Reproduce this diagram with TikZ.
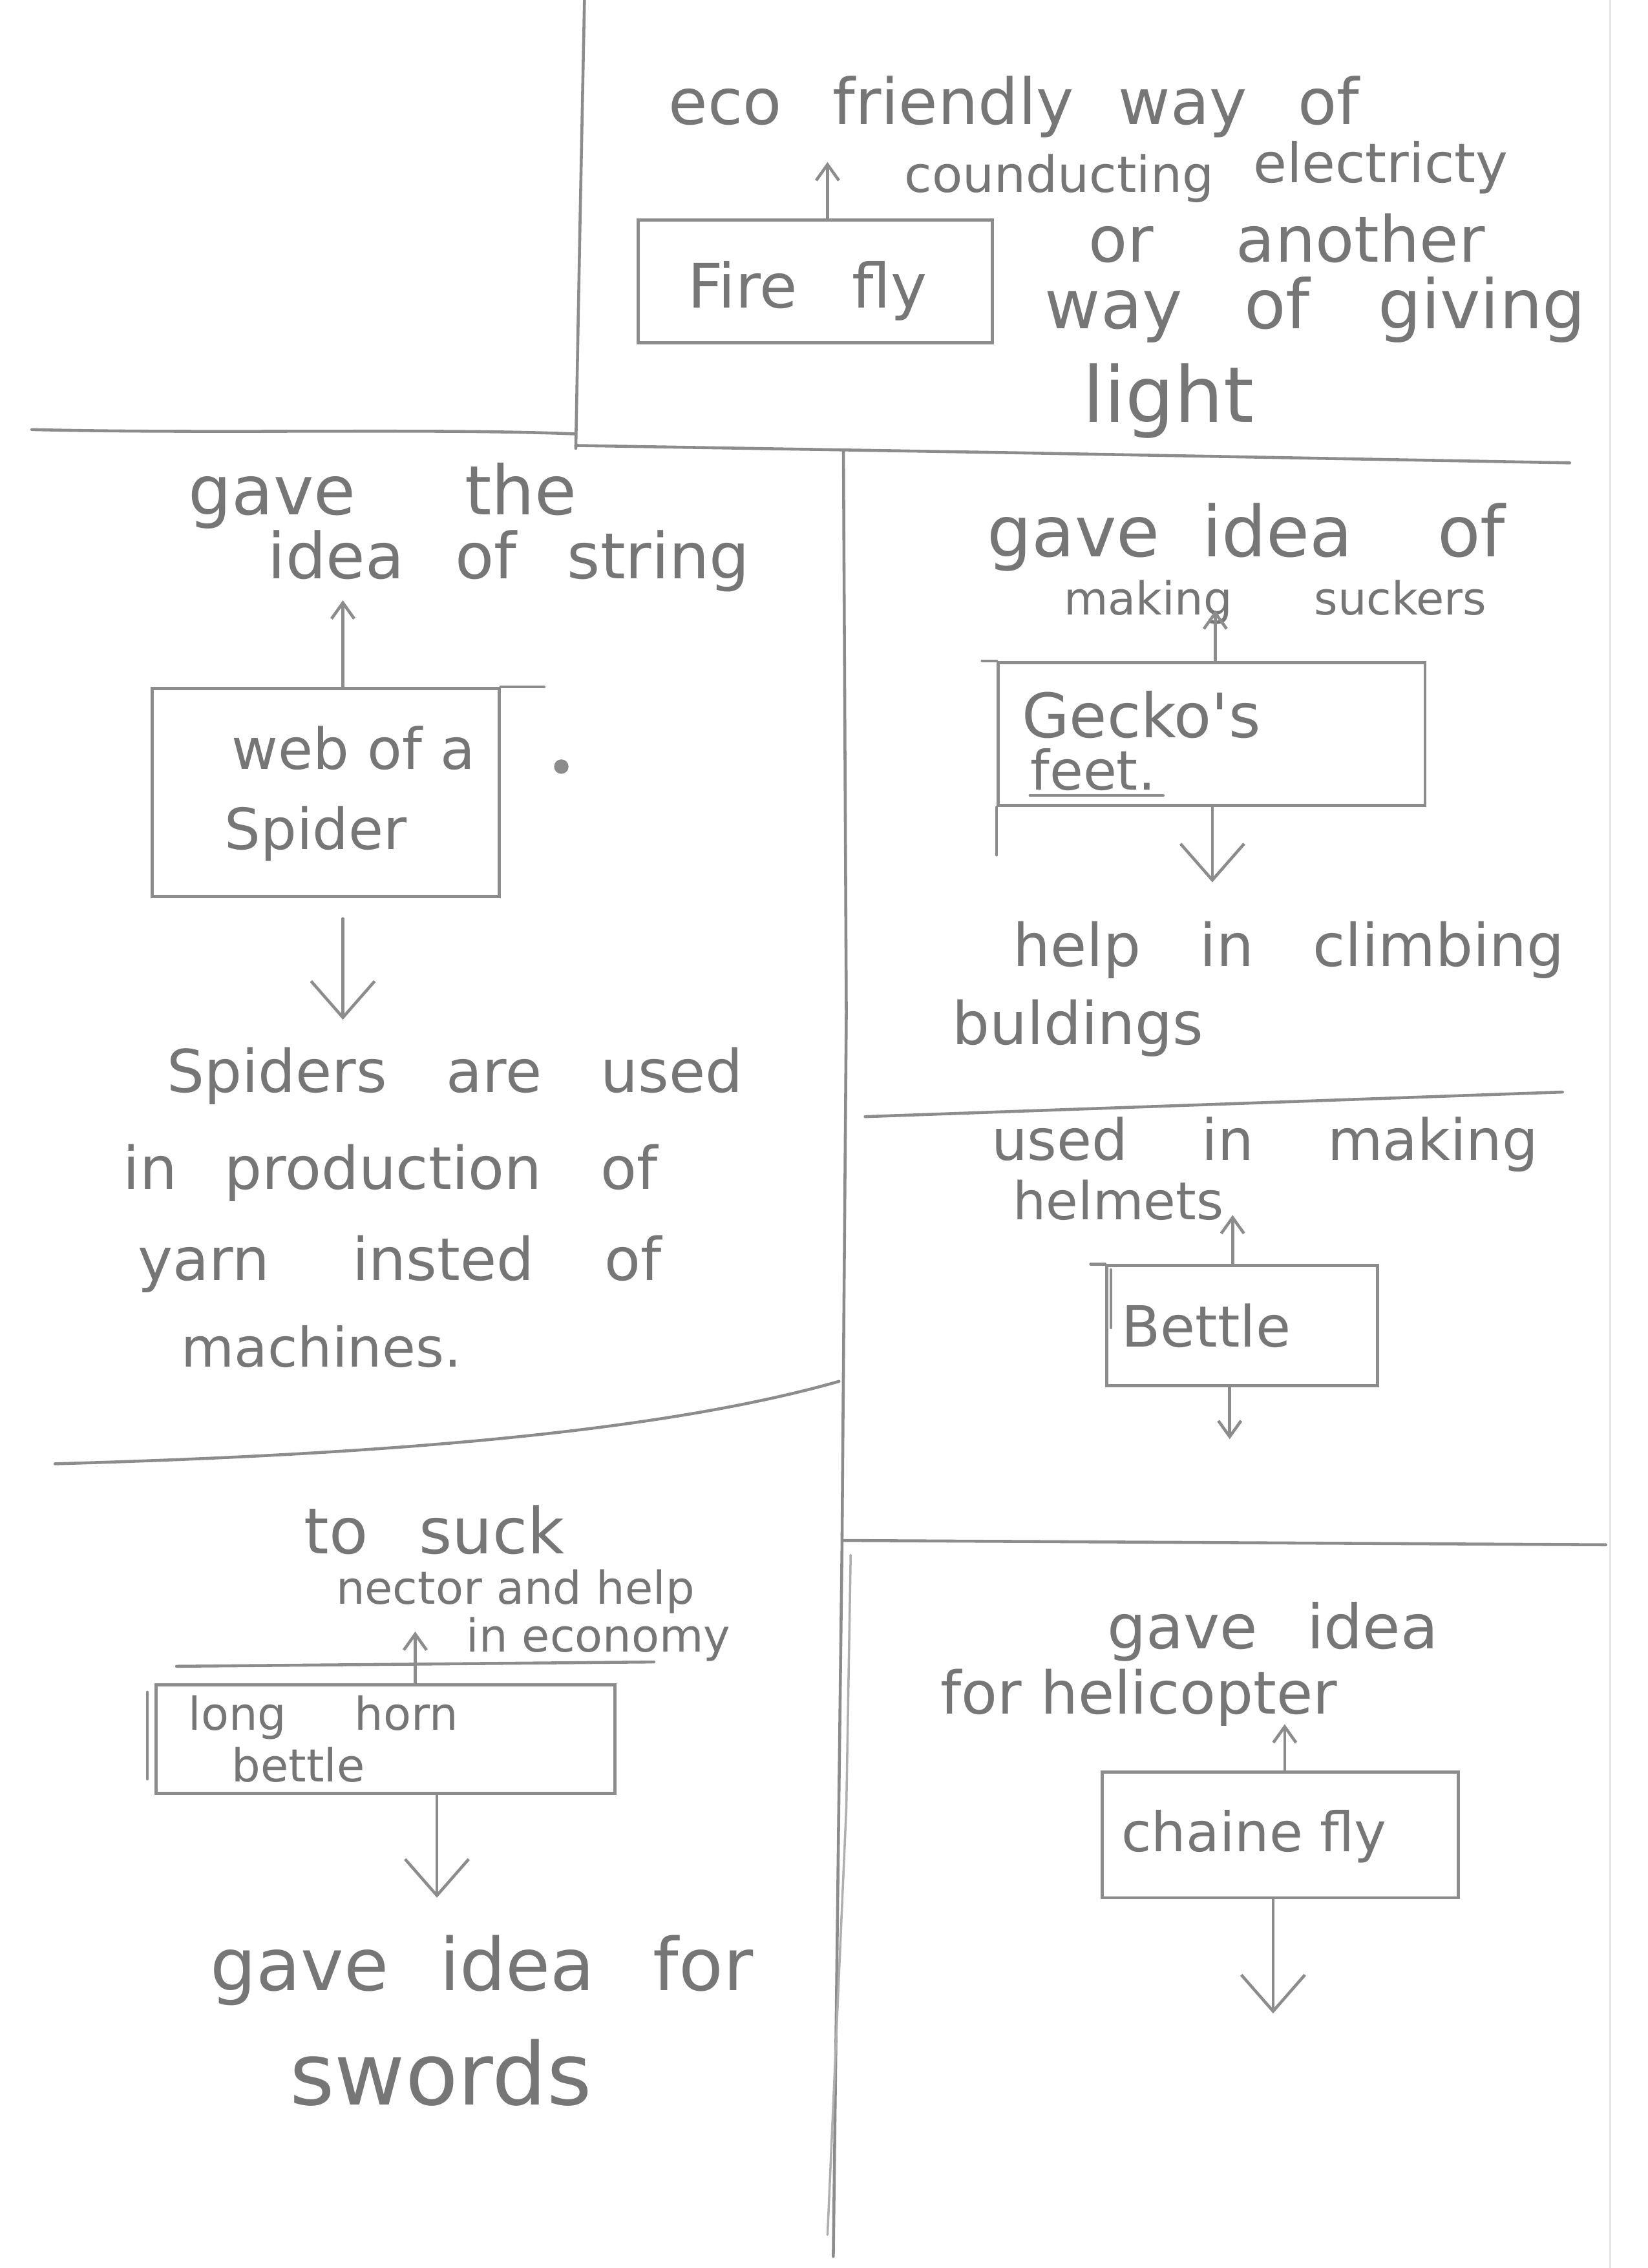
\documentclass[tikz,border=0pt]{standalone}
\usepackage{fontspec}
\newfontfamily\handfont{DejaVu Sans}
\usetikzlibrary{arrows.meta}
\definecolor{pencil}{HTML}{767676}
\definecolor{penline}{HTML}{8C8C8C}
\newlength\unitpx
\setlength\unitpx{0.022388cm}
\newcommand\hs[1]{\fontsize{#1}{#1}\selectfont\handfont}
\begin{document}
\begin{tikzpicture}[x={(0.022388cm,0)}, y={(0,-0.022388cm)},
  hand/.style={text=pencil, inner sep=0pt, anchor=base west},
  rule/.style={draw=penline, line width=1.3pt, line cap=round, line join=round},
  faint/.style={draw=penline!70, line width=1pt, line cap=round},
  box/.style={draw=penline, line width=1.4pt, inner sep=0pt, rectangle},
  upar/.style={rule, -{Straight Barb[length=7pt,width=10pt]}},
  downar/.style={rule, -{Straight Barb[length=16pt,width=28pt]}}]
\fill[white] (0,0) rectangle (1139,1568);
\useasboundingbox (0,0) rectangle (1139,1568);

% page dividers
\draw[rule] (404,0) -- (401,150) -- (398,310);
\draw[rule] (22,297) .. controls (150,300) and (300,296) .. (398,300);
\draw[rule] (398,308) -- (700,313) -- (1085,320);
\draw[rule] (583,312) -- (585,700) -- (582,1070) -- (576,1560);
\draw[faint] (588,1075) -- (585,1250) -- (572,1545);
\draw[rule] (598,772) -- (1080,755);
\draw[rule] (38,1012) .. controls (250,1006) and (450,992) .. (580,955);
\draw[rule] (583,1065) -- (1110,1068);
\draw[draw=black!10, line width=1pt] (1113,0) -- (1113,1568);

% fire fly
\node[box, minimum width=245\unitpx, minimum height=85\unitpx] (ffBox) at (563.5,194.5) {};
\node[hand, font=\hs{27}] (ffText) at (475,213) {Fire\hspace{0.9em}fly};
\node[hand, font=\hs{28}] (eco) at (462,86) {eco\hspace{0.8em}friendly\hspace{0.7em}way\hspace{0.8em}of};
\node[hand, font=\hs{22}] (cond) at (625,133) {counducting};
\node[hand, font=\hs{24}] (elec) at (866,126) {electricty};
\node[hand, font=\hs{28}] (orAn) at (752,181) {or\hspace{1.3em}another};
\node[hand, font=\hs{30}] (wayG) at (722,227) {way\hspace{0.9em}of\hspace{1em}giving};
\node[hand, font=\hs{34}] (light) at (748,292) {light};
\coordinate (ffTip) at (572,112);
\draw[upar] (ffTip |- ffBox.north) -- (ffTip);

% web of a spider
\node[box, minimum width=240\unitpx, minimum height=144\unitpx] (webBox) at (225,548) {};
\draw[rule] (webBox.north east) -- ++(30,0);
\node[hand, font=\hs{25}] (webText) at (160,532) {web of a};
\node[hand, font=\hs{25}] (spText) at (155,587) {Spider};
\fill[penline] (388,530) circle (5);
\node[hand, font=\hs{30}] (gaveThe) at (130,356) {gave\hspace{1.6em}the};
\node[hand, font=\hs{28}] (ideaStr) at (185,400) {idea\hspace{0.8em}of\hspace{0.8em}string};
\coordinate (webTip) at (237,415);
\draw[upar] (webTip |- webBox.north) -- (webTip);
\coordinate (webDown) at (237,705);
\draw[downar] (webDown |- webBox.south) ++(0,14) -- (webDown);
\node[hand, font=\hs{26}] (spUsed) at (115,755) {Spiders\hspace{1em}are\hspace{1em}used};
\node[hand, font=\hs{26}] (inProd) at (85,822) {in\hspace{0.8em}production\hspace{1em}of};
\node[hand, font=\hs{26}] (yarn) at (95,885) {yarn\hspace{1.4em}insted\hspace{1.2em}of};
\node[hand, font=\hs{24}] (mach) at (125,945) {machines.};

% gecko's feet
\node[box, minimum width=295\unitpx, minimum height=99\unitpx] (gkBox) at (837.5,507.5) {};
\draw[rule] (gkBox.south west) -- ++(0,33);
\draw[rule] (gkBox.north west) -- ++(-10,0);
\node[hand, font=\hs{27}] (gkText) at (706,510) {Gecko's};
\node[hand, font=\hs{24}] (feetText) at (712,546) {feet.};
\draw[rule] (feetText.base west) ++(0,4) -- ++(92,0);
\node[hand, font=\hs{31}] (gaveIdeaOf) at (682,385) {gave\hspace{0.6em}idea\hspace{1.2em}of};
\node[hand, font=\hs{20}] (suckers) at (735,425) {making\hspace{1.8em}suckers};
\coordinate (gkTip) at (840,422);
\draw[upar] (gkTip |- gkBox.north) -- (gkTip);
\coordinate (gkDown) at (838,610);
\draw[downar] (gkDown |- gkBox.south) -- (gkDown);
\node[hand, font=\hs{26}] (climb) at (700,668) {help\hspace{1em}in\hspace{1em}climbing};
\node[hand, font=\hs{26}] (buld) at (658,722) {buldings};

% bettle
\node[box, minimum width=187\unitpx, minimum height=83\unitpx] (btBox) at (858.5,916.5) {};
\draw[rule] (btBox.north west) -- ++(-10,0);
\draw[rule] (btBox.north west) ++(4,4) -- ++(0,40);
\node[hand, font=\hs{25}] (btText) at (775,931) {Bettle};
\node[hand, font=\hs{25}] (usedMk) at (685,802) {used\hspace{1.3em}in\hspace{1.3em}making};
\node[hand, font=\hs{23}] (helm) at (700,843) {helmets};
\coordinate (btTip) at (852,840);
\draw[upar] (btTip |- btBox.north) -- (btTip);
\coordinate (btDown) at (850,995);
\draw[upar] (btDown |- btBox.south) -- (btDown);

% long horn bettle
\node[box, minimum width=317\unitpx, minimum height=75\unitpx] (lhBox) at (266.5,1202.5) {};
\draw[rule] (lhBox.north west) ++(-5,6) -- ++(0,60);
\node[hand, font=\hs{20}] (lhText) at (130,1196) {long\hspace{1.5em}horn};
\node[hand, font=\hs{20}] (lhText2) at (160,1232) {bettle};
\node[hand, font=\hs{28}] (toSuck) at (210,1074) {to\hspace{0.8em}suck};
\node[hand, font=\hs{20}] (nector) at (232,1109) {nector and help};
\node[hand, font=\hs{20}] (econ) at (322,1142) {in economy};
\draw[rule] (econ.base west) ++(-200,10) -- ++(330,-3);
\coordinate (lhTip) at (287,1128);
\draw[upar] (lhTip |- lhBox.north) -- (lhTip);
\coordinate (lhDown) at (302,1312);
\draw[downar] (lhDown |- lhBox.south) -- (lhDown);
\node[hand, font=\hs{32}] (gaveFor) at (145,1376) {gave\hspace{0.7em}idea\hspace{0.8em}for};
\node[hand, font=\hs{38}] (swords) at (200,1455) {swords};

% chaine fly
\node[box, minimum width=246\unitpx, minimum height=87\unitpx] (chBox) at (885,1268.5) {};
\node[hand, font=\hs{24}] (chText) at (775,1280) {chaine fly};
\node[hand, font=\hs{27}] (gaveIdea) at (765,1140) {gave\hspace{0.8em}idea};
\node[hand, font=\hs{26}] (heli) at (650,1185) {for helicopter};
\coordinate (chTip) at (888,1192);
\draw[upar] (chTip |- chBox.north) -- (chTip);
\coordinate (chDown) at (880,1392);
\draw[downar] (chDown |- chBox.south) -- (chDown);
\end{tikzpicture}
\end{document}
